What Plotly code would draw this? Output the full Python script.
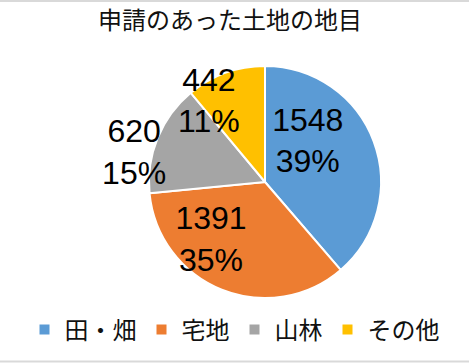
import plotly.graph_objects as go

categories = ["田・畑", "宅地", "山林", "その他"]
values = [1548, 1391, 620, 442]
colors = ["#5B9BD5", "#ED7D31", "#A5A5A5", "#FFC000"]
title_text = "申請のあった土地の地目"

NB = "\u00a0"
# per-slice label layout (trailing padding nudges where the label sits)
label_templates = [
    "%{value}" + NB * 3 + "<br>%{percent:.0%}" + NB * 3 + "<br>" + NB,
    "%{value}" + NB * 7 + "<br>%{percent:.0%}" + NB * 7,
    "%{value}" + NB * 13 + "<br>%{percent:.0%}" + NB * 13,
    "%{value}" + NB * 6 + "<br>%{percent:.0%}" + NB * 6,
]

W, H = 469, 363
fig = go.Figure()
fig.add_trace(go.Pie(
    labels=categories,
    values=values,
    sort=False,
    direction="clockwise",
    rotation=0,
    marker=dict(colors=colors, line=dict(color="white", width=2)),
    texttemplate=label_templates,
    textposition="inside",
    insidetextorientation="horizontal",
    textfont=dict(family="Liberation Sans, Arial", size=32, color="black"),
    hoverinfo="label+value+percent",
    domain=dict(x=[149 / W, 381 / W], y=[1 - 298 / H, 1 - 66 / H]),
))

fig.update_layout(
    width=W, height=H,
    margin=dict(l=0, r=0, t=0, b=0),
    paper_bgcolor="white",
    plot_bgcolor="white",
    uniformtext=dict(minsize=32, mode="show"),
    font=dict(family="Noto Sans CJK JP", color="#111111"),
    showlegend=True,
    legend=dict(
        orientation="h", x=0.5, xanchor="center", y=1 - 330 / H, yanchor="middle",
        font=dict(family="Noto Sans CJK JP", size=24, color="#111111"),
        itemwidth=30, traceorder="normal",
    ),
    annotations=[dict(
        text=title_text, x=230 / W, y=1 - 18 / H, xref="paper", yref="paper",
        xanchor="center", yanchor="middle", showarrow=False,
        font=dict(family="Noto Sans CJK JP", size=24, color="#111111"),
    )],
    shapes=[
        dict(type="line", xref="paper", yref="paper", x0=0, x1=1, y0=1 - 1 / H, y1=1 - 1 / H,
             line=dict(color="#D9D9D9", width=2)),
        dict(type="line", xref="paper", yref="paper", x0=0, x1=1, y0=1 - 361.5 / H, y1=1 - 361.5 / H,
             line=dict(color="#D9D9D9", width=2)),
    ],
)

fig.write_html(
    "out.html",
    config={"displayModeBar": False},
    post_script="document.body.style.margin='0';document.body.style.overflow='hidden';",
)
